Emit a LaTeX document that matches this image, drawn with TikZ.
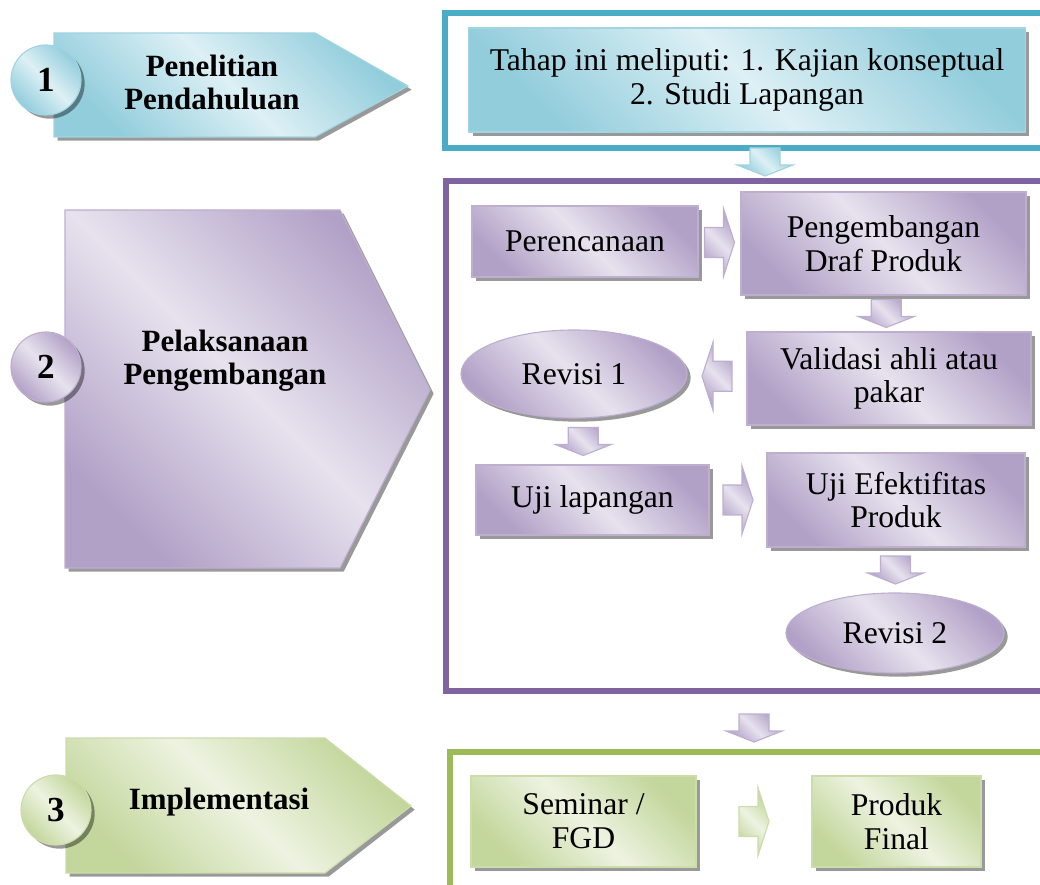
\documentclass[tikz,border=0pt]{standalone}
\usepackage{fontspec}
\setmainfont{Liberation Serif}
\usetikzlibrary{shapes.geometric,shadows,calc}

\definecolor{blueF}{HTML}{4BACC6}
\definecolor{blueD}{HTML}{92CDDC}
\definecolor{blueL}{HTML}{DDF0F5}
\definecolor{purpF}{HTML}{8064A2}
\definecolor{purpD}{HTML}{B2A1C7}
\definecolor{purpL}{HTML}{E7E2EE}
\definecolor{greenF}{HTML}{9BBB59}
\definecolor{greenD}{HTML}{C3D69B}
\definecolor{greenL}{HTML}{EDF3E1}

\pgfdeclarehorizontalshading{bluefx}{100bp}{color(0bp)=(blueD); color(25bp)=(blueD); color(50bp)=(blueL); color(75bp)=(blueD); color(100bp)=(blueD)}
\pgfdeclarehorizontalshading{purpfx}{100bp}{color(0bp)=(purpD); color(25bp)=(purpD); color(50bp)=(purpL); color(75bp)=(purpD); color(100bp)=(purpD)}
\pgfdeclarehorizontalshading{greenfx}{100bp}{color(0bp)=(greenD); color(25bp)=(greenD); color(50bp)=(greenL); color(75bp)=(greenD); color(100bp)=(greenD)}

\newcommand{\bxfont}{\fontsize{22.5}{24}\selectfont}
\newcommand{\ttlfont}{\fontsize{22}{23.5}\selectfont\bfseries}
\newcommand{\numfont}{\fontsize{25}{26}\selectfont\bfseries}

\tikzset{
  shadowfx/.style={drop shadow={shadow xshift=2.6pt, shadow yshift=-2.6pt, fill=black, opacity=0.4}},
  bluefill/.style={shade, shading=bluefx, shading angle=45, draw=blueD!85!white, line width=0.8pt},
  purpfill/.style={shade, shading=purpfx, shading angle=45, draw=purpD!85!white, line width=0.8pt},
  greenfill/.style={shade, shading=greenfx, shading angle=45, draw=greenD!85!white, line width=0.8pt},
  box/.style={rectangle, shadowfx, align=center, font=\bxfont, inner sep=2pt},
  oval/.style={ellipse, shadowfx, align=center, font=\bxfont, inner sep=0pt},
  numball/.style={circle, shadowfx, minimum size=1.75cm, inner sep=0pt, font=\numfont},
  title/.style={align=center, font=\ttlfont},
  pics/dnarr/.style={code={
    \path[pic actions] (-15,-14) -- (15,-14) -- (15,3) -- (28,3) -- (0,14) -- (-28,3) -- (-15,3) -- cycle;
  }},
  pics/rtarr/.style={code={
    \path[pic actions] (-15,-15) -- (4,-15) -- (4,-34) -- (15,0) -- (4,34) -- (4,15) -- (-15,15) -- cycle;
  }}
}

\begin{document}
\begin{tikzpicture}[x=0.025cm, y=-0.025cm]
\useasboundingbox (0,0) rectangle (1040,885);

% frames
\draw[blueF, line width=4.3pt] (1060,13) -- (445,13) -- (445,148) -- (1060,148);
\draw[purpF, line width=3.8pt] (1060,181) -- (446,181) -- (446,691) -- (1060,691);
\draw[greenF, line width=3.8pt] (1060,752) -- (450,752) -- (450,900);
\coordinate (ptop) at (765,181);
\coordinate (gtop) at (754,752);

% stage shapes
\path[bluefill, shadowfx] (54,33) -- (315,33) -- (408,86) -- (315,137) -- (54,137) -- cycle;
\path[purpfill, shadowfx] (65,210) -- (340,210) -- (430,390) -- (340,568) -- (65,568) -- cycle;
\path[greenfill, shadowfx] (66,738) -- (325,738) -- (411,806) -- (325,873) -- (66,873) -- cycle;

\node[numball, bluefill] (n1) at (46,80) {1};
\node[numball, purpfill] (n2) at (46,367) {2};
\node[numball, greenfill] (n3) at (56,810) {3};

\node[title] (t1) at (212,82) {Penelitian\\Pendahuluan};
\node[title] (t2) at (225,361) {Pelaksanaan\\Pengembangan};
\node[title] (t3) at (219,802) {Implementasi};

% boxes
\node[box, bluefill, minimum width=13.9cm, minimum height=2.6cm] (study) at (747,80) {Tahap ini meliputi: 1. Kajian konseptual\\2. Studi Lapangan};
\node[box, purpfill, minimum width=5.65cm, minimum height=1.775cm] (plan) at (585,241.5) {Perencanaan};
\node[box, purpfill, minimum width=7.125cm, minimum height=2.575cm] (draft) at (883.5,243.5) {Pengembangan\\Draf Produk};
\node[box, purpfill, minimum width=7.1cm, minimum height=2.325cm] (valid) at (889,378.5) {Validasi ahli atau\\pakar};
\node[oval, purpfill, minimum width=5.65cm, minimum height=2.2cm] (rev1) at (574,374) {Revisi 1};
\node[box, purpfill, minimum width=5.825cm, minimum height=1.75cm] (field) at (592.5,500) {Uji lapangan};
\node[box, purpfill, minimum width=6.45cm, minimum height=2.35cm] (effect) at (896,500) {Uji Efektifitas\\Produk};
\node[oval, purpfill, minimum width=5.45cm, minimum height=2cm] (rev2) at (895,633) {Revisi 2};
\node[box, greenfill, minimum width=5.625cm, minimum height=2.275cm] (seminar) at (583.5,821.5) {Seminar /\\FGD};
\node[box, greenfill, minimum width=4.225cm, minimum height=2.275cm] (final) at (896.5,821.5) {Produk\\Final};

% block arrows
\pic[bluefill] at ($(ptop)+(0,-19)$) {dnarr};
\pic[purpfill] at ($(plan.east)!0.5!(draft.west)$) {rtarr};
\pic[purpfill] at ($(draft.south)!0.5!(valid.north)$) {dnarr};
\pic[purpfill, rotate=180] at ($(valid.west)!0.5!(rev1.east)$) {rtarr};
\pic[purpfill] at ($(rev1.south)!0.5!(field.north)$) {dnarr};
\pic[purpfill] at ($(field.east)!0.5!(effect.west)$) {rtarr};
\pic[purpfill] at ($(effect.south)!0.5!(rev2.north)$) {dnarr};
\pic[purpfill] at ($(gtop)+(0,-24)$) {dnarr};
\pic[greenfill] at ($(seminar.east)!0.5!(final.west)$) {rtarr};
\end{tikzpicture}
\end{document}
